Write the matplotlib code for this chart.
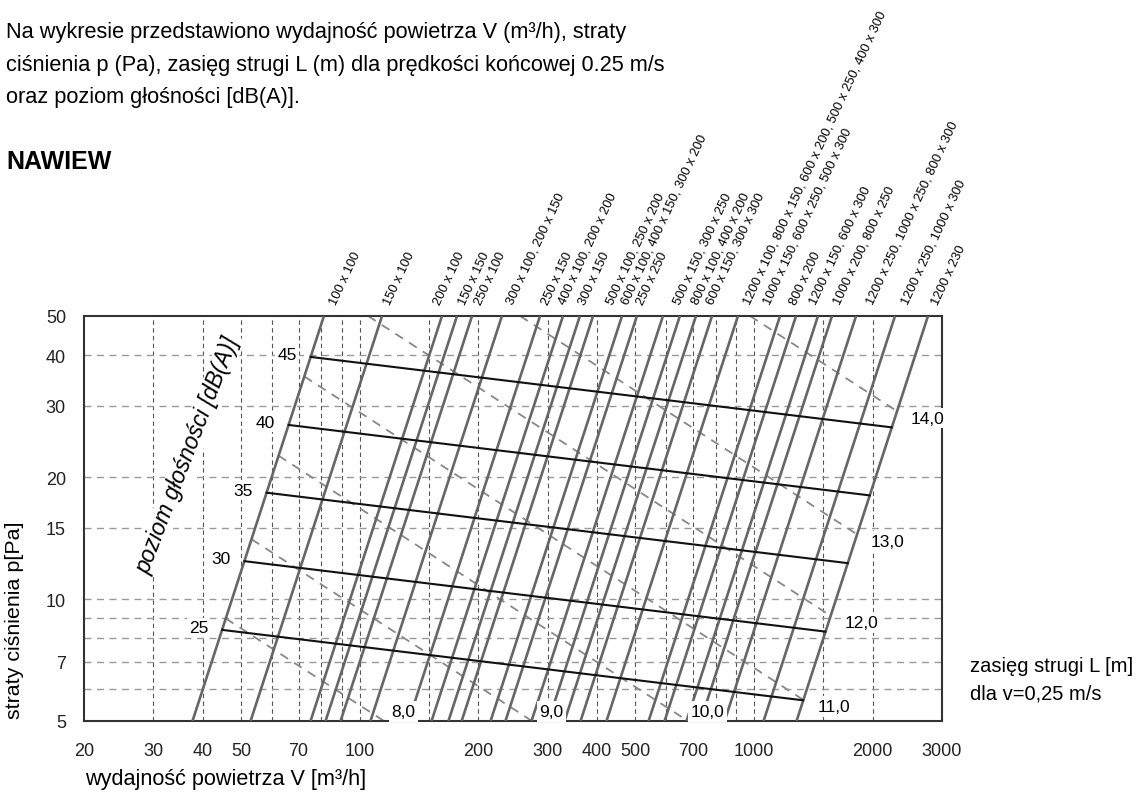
import numpy as np
import matplotlib.pyplot as plt

plt.rcParams['font.family'] = ['Liberation Sans', 'DejaVu Sans']

# wymiary kratek (etykiety nad wykresem) i ich polozenie w V [m3/h]
size_labels = ['100 x 100', '150 x 100', '200 x 100', '150 x 150', '250 x 100',
               '300 x 100, 200 x 150', '250 x 150', '400 x 100, 200 x 200', '300 x 150',
               '500 x 100, 250 x 200', '600 x 100, 400 x 150, 300 x 200', '250 x 250',
               '500 x 150, 300 x 250', '800 x 100, 400 x 200', '600 x 150, 300 x 300',
               '1200 x 100, 800 x 150, 600 x 200, 500 x 250, 400 x 300',
               '1000 x 150, 600 x 250, 500 x 300', '800 x 200', '1200 x 150, 600 x 300',
               '1000 x 200, 800 x 250', '1200 x 250, 1000 x 250, 800 x 300',
               '1200 x 250, 1000 x 300', '1200 x 230']
label_V = [85.6, 117.4, 157.2, 181.8, 199.6, 240.7, 295.3, 326.2, 366.4, 431.6, 471.1,
           514.3, 638.3, 708.9, 774.0, 960.6, 1079.6, 1256.7, 1412.4, 1624.6, 1969.8,
           2416.8, 2879.6]

# linie kratek: V przy p = 50 Pa, p ~ V^3
size_V50 = [81.2, 114, 161.8, 176.6, 192.8, 229.6, 286.8, 328, 362, 391, 463, 505, 588,
            649, 713, 783, 911, 1165, 1279, 1454, 1578, 1816, 2280, 2764]
size_exp = 3.0

# poziom glosnosci: p na lewej linii granicznej
db_levels = ['45', '40', '35', '30', '25']
db_p_start = [39.6, 26.9, 18.3, 12.4, 8.39]
db_slope = -0.118

# zasieg strugi: V przy p = 5 Pa
throw_L = ['8,0', '9,0', '10,0', '11,0', '12,0', '13,0', '14,0']
throw_V5 = [115.3, 273.7, 680.3, 1615, 4040, 9818, 37600]
throw_slope = -0.631

x_ticks = [20, 30, 40, 50, 70, 100, 200, 300, 400, 500, 700, 1000, 2000, 3000]
y_ticks = [5, 7, 10, 15, 20, 30, 40, 50]
x_grid = [30, 40, 50, 60, 70, 80, 90, 100, 150, 200, 300, 400, 500, 600, 700, 800, 900,
          1000, 1500, 2000]
y_grid = [6, 7, 8, 9, 10, 15, 20, 30, 40]

W, H = 1148, 803
fig = plt.figure(figsize=(W / 100, H / 100), dpi=100)
ax = fig.add_axes([84 / W, 1 - 722 / H, 858 / W, 405 / H])
ax.set_xscale('log')
ax.set_yscale('log')
ax.set_xlim(20, 3000)
ax.set_ylim(5, 50)

for v in x_grid:
    ax.axvline(v, color='#555555', lw=0.8, ls=(0, (4, 3)), zorder=1)
for p in y_grid:
    ax.axhline(p, color='#999999', lw=1.0, ls=(0, (5, 4)), zorder=1)

V = np.logspace(np.log10(20), np.log10(3000), 6000)
left_p = 50 * (V / size_V50[0]) ** size_exp
right_p = 50 * (V / size_V50[-1]) ** size_exp


def clip(p):
    ok = (p <= left_p) & (p >= right_p) & (p >= 5) & (p <= 50)
    return np.where(ok, p, np.nan)


# linie kratek
for v50 in size_V50:
    vv = np.array([v50 * 0.1 ** (1 / size_exp), v50])
    ax.plot(vv, 50 * (vv / v50) ** size_exp, color='#666666', lw=1.9, zorder=3,
            solid_capstyle='butt')

# zasieg strugi
for lab, v5 in zip(throw_L, throw_V5):
    p = clip(5 * (V / v5) ** throw_slope)
    ax.plot(V, p, color='#888888', lw=1.3, ls=(0, (5, 4)), zorder=2)
    i = np.where(~np.isnan(p))[0][-1]
    if p[i] < 5.05:
        off = (14, 7)
    else:
        off = (22, -5)
    ax.annotate(lab, xy=(V[i], p[i]), xytext=off, textcoords='offset points',
                ha='center', va='center', fontsize=12.5, zorder=6, annotation_clip=False,
                bbox=dict(facecolor='white', edgecolor='none', pad=2))

# poziom glosnosci
for lab, p0 in zip(db_levels, db_p_start):
    v0 = size_V50[0] * (p0 / 50) ** (1 / size_exp)
    p = clip(p0 * (V / v0) ** db_slope * 1.0005)
    ax.plot(V, p, color='#111111', lw=1.5, zorder=4)
    ax.annotate(lab, xy=(v0, p0), xytext=(-17, 2), textcoords='offset points',
                ha='center', va='center', fontsize=12.5, zorder=6,
                bbox=dict(facecolor='white', edgecolor='none', pad=1.5))

for lab, v in zip(size_labels, label_V):
    ax.annotate(lab, xy=(v, 50), xytext=(0, 9), textcoords='offset points', rotation=65,
                rotation_mode='anchor', ha='left', va='center', fontsize=9.4,
                annotation_clip=False)

ax.text(0.121, 0.659, 'poziom głośności [dB(A)]', transform=ax.transAxes, rotation=69,
        ha='center', va='center', fontsize=16.4, style='italic', zorder=6,
        bbox=dict(facecolor='white', edgecolor='none', pad=1))

ax.set_xticks(x_ticks)
ax.set_xticklabels([str(t) for t in x_ticks])
ax.set_yticks(y_ticks)
ax.set_yticklabels([str(t) for t in y_ticks])
ax.minorticks_off()
ax.tick_params(length=0, labelsize=13, colors='#222222')
ax.tick_params(axis='x', pad=15)
ax.tick_params(axis='y', pad=13)
for s in ax.spines.values():
    s.set_color('#333333')
    s.set_linewidth(1.5)

fig.text(6 / W, 1 - 38 / H, 'Na wykresie przedstawiono wydajność powietrza V (m³/h), straty',
         fontsize=15.7, va='baseline')
fig.text(6 / W, 1 - 71 / H, 'ciśnienia p (Pa), zasięg strugi L (m) dla prędkości końcowej 0.25 m/s',
         fontsize=15.7, va='baseline')
fig.text(6 / W, 1 - 103 / H, 'oraz poziom głośności [dB(A)].', fontsize=15.7, va='baseline')
fig.text(6 / W, 1 - 162 / H, 'NAWIEW', fontsize=18, fontweight='bold', va='center')
fig.text(15 / W, 1 - 620 / H, 'straty ciśnienia p[Pa]', rotation=90, fontsize=15.4,
         ha='center', va='center')
fig.text(85 / W, 1 - 780 / H, 'wydajność powietrza V [m³/h]', fontsize=15.6, va='center')
fig.text(970 / W, 1 - 667 / H, 'zasięg strugi L [m]', fontsize=14.5, va='center')
fig.text(970 / W, 1 - 694 / H, 'dla v=0,25 m/s', fontsize=14.5, va='center')

fig.savefig('out.png', dpi=100)
